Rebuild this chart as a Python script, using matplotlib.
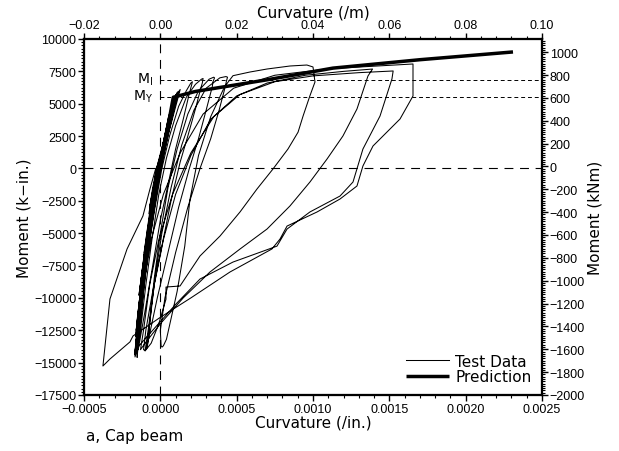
import matplotlib
matplotlib.use('agg')
import matplotlib.pyplot as plt
from matplotlib.ticker import MultipleLocator, FuncFormatter
import numpy as np

# curvature in micro (/in.) (x1e-6), moment in k-in.
elastic_cycles = [
    (0, 0), (15, 1200), (35, 2200), (50, 3000),
    (30, 2200), (0, 1000), (-25, 0), (-50, -1500), (-70, -3000),
    (-50, -1800), (-20, -500), (10, 800), (40, 2200), (60, 3200),
    (40, 2300), (5, 900), (-25, -200), (-55, -2000), (-75, -3500),
    (-45, -2000), (-10, 0), (30, 2000), (60, 3500), (75, 4500),
    (55, 3600), (20, 2000), (-20, 0), (-55, -2500), (-85, -4800), (-105, -6500),
    (-75, -4500), (-40, -2000), (-5, 0), (35, 2200), (65, 3800), (80, 4700),
    (60, 3700), (15, 1800), (-25, 0), (-65, -3000), (-95, -5500), (-110, -6800),
    (-80, -5000), (-40, -2200), (0, 0), (40, 2400), (70, 4200), (90, 5200),
    (70, 4200), (25, 2000), (-20, 0), (-60, -3000), (-95, -6000), (-120, -8000), (-135, -9500),
    (-110, -7000), (-70, -4000), (-30, -1500), (10, 1000), (50, 3200), (80, 4800), (95, 5300),
    (75, 4200), (30, 2200), (-15, 0), (-60, -3200), (-100, -6500), (-125, -8500), (-140, -9800),
    (-115, -7500), (-75, -4500), (-35, -1800), (5, 700), (45, 3000), (80, 4800), (100, 5500),
    (80, 4500), (35, 2300), (-15, 0), (-60, -3500), (-100, -7000), (-130, -9500), (-150, -11500), (-158, -12500),
    (-135, -10000), (-100, -7000), (-60, -3800), (-20, -1000), (25, 2000), (65, 4200), (95, 5400), (105, 5600),
    (85, 4600), (40, 2400), (-10, 0), (-55, -3500), (-95, -7000), (-128, -10000), (-152, -12000), (-162, -13000),
    (-140, -10500), (-105, -7000), (-65, -3800), (-25, -1000), (20, 2000), (60, 4200), (95, 5500), (110, 5800),
    (90, 4800), (45, 2600), (0, 200), (-45, -3000), (-90, -6800), (-125, -10000), (-150, -12500), (-163, -14000),
    (-145, -11500), (-110, -8000), (-70, -4500), (-30, -1500), (15, 1800), (55, 4000), (90, 5400), (115, 5900),
    (95, 4900), (50, 2700), (5, 300), (-40, -2800), (-85, -6500), (-120, -9800), (-148, -12500), (-160, -14300),
    (-140, -11500), (-105, -8000), (-65, -4500), (-25, -1500), (20, 1800), (60, 4000), (100, 5600), (130, 6100),
    (110, 5200), (60, 3000), (10, 500), (-35, -2500), (-80, -6000), (-115, -9500), (-140, -12200), (-152, -14600),
    (-132, -11800), (-98, -8200), (-58, -4600), (-18, -1500), (25, 1700), (65, 3900), (98, 5400), (120, 5900),
    (100, 5000), (55, 2800), (8, 300), (-38, -2700), (-82, -6200), (-118, -9700), (-144, -12400), (-156, -14200),
    (-136, -11600), (-102, -8100), (-62, -4600), (-22, -1600), (22, 1700), (62, 3900), (96, 5500), (112, 5900),
    (92, 4900), (48, 2700), (2, 200), (-42, -2900), (-88, -6700), (-122, -9900), (-150, -12600), (-168, -14400),
    (-148, -11800), (-112, -8200), (-72, -4700), (-32, -1700), (12, 1600), (52, 3900), (88, 5400), (108, 5800),
    (88, 4800), (42, 2500), (-4, 100), (-48, -3100), (-92, -6900), (-127, -10100), (-154, -12800), (-165, -14100),
]

small_inelastic = [
    (-135, -12500), (-110, -9500), (-75, -6000), (-35, -3000), (10, 0), (60, 2500), (120, 4800),
    (170, 6000), (200, 6600), (210, 6700), (205, 6450),
    (190, 5800), (150, 3800), (100, 1500), (55, -1000), (0, -4000), (-50, -7500), (-100, -11000),
    (-130, -13000), (-145, -14000),
    (-125, -12000), (-95, -9000), (-55, -5500), (-10, -2000), (40, 800), (100, 3300), (170, 5500),
    (230, 6500), (270, 6900), (280, 6950), (275, 6600),
    (265, 6200), (230, 4600), (180, 2500), (130, 500), (70, -2500), (10, -6000), (-50, -9500),
    (-95, -12500), (-110, -14000), (-100, -14050), (-85, -13800),
    (-70, -12000), (-40, -8500), (0, -5000), (50, -1500), (110, 1500), (180, 4200), (250, 6000),
    (320, 6900), (350, 7050), (355, 7000), (345, 6700),
    (340, 6300), (300, 4500), (250, 2300), (190, 0), (120, -3000), (50, -6500), (-20, -10000),
    (-70, -12800), (-90, -13900),
    (-70, -12000), (-35, -8500), (10, -5000), (70, -1500), (140, 1800), (220, 4500), (300, 6200),
    (390, 7000), (430, 7100), (440, 7050), (432, 6700),
    (425, 6300), (385, 4500), (330, 2300), (260, 0), (180, -3000), (100, -6500), (30, -10000),
    (0, -12500), (5, -13700), (11, -13800), (20, -13700), (40, -13200),
]

big_cycle_1 = [
    (110, -9500), (160, -6000), (194, -2400), (250, 1000), (330, 4000), (420, 6300), (476, 7166),
    (587, 7450), (699, 7682), (849, 7914), (960, 7990), (1000, 7840),
    (1013, 6680), (980, 5620), (935, 4050), (902, 2800), (836, 1500), (738, -40), (633, -1590),
    (522, -3360), (391, -5220), (260, -6760), (129, -9080), (37, -9160), (37, -10100),
    (-10, -12000), (-60, -13500), (-100, -14100),
]

big_cycle_2 = [
    (-80, -12500), (-40, -9000), (20, -5500), (100, -2000), (200, 1000), (330, 3800), (500, 5600),
    (700, 6600), (950, 7200), (1200, 7500), (1390, 7680),
    (1360, 7142), (1288, 4593), (1196, 2507), (1092, 730), (980, -1047), (849, -2900),
    (699, -4678), (522, -6223), (325, -8000), (150, -10000), (0, -12000), (-100, -13500),
    (-130, -14000),
]

big_cycle_3 = [
    (-110, -12500), (-70, -9000), (-10, -5500), (80, -2000), (200, 1200), (350, 4000), (520, 5700),
    (750, 6700), (1000, 7150), (1300, 7400), (1525, 7530),
    (1517, 6910), (1439, 4050), (1327, 1500), (1262, -1047), (1177, -2130), (980, -3360),
    (830, -4680), (764, -6000), (476, -7230), (260, -8540), (100, -10500), (-50, -12500),
    (-140, -13700), (-166, -14560),
]

big_cycle_4 = [
    (-145, -12500), (-110, -9000), (-60, -5500), (20, -2000), (130, 1200), (280, 4200), (480, 6200),
    (750, 7200), (1100, 7700), (1400, 7900), (1655, 8070),
    (1655, 5597), (1570, 3820), (1393, 1735), (1327, 190), (1288, -1356), (1177, -2360),
    (1026, -3365), (830, -4450), (784, -5450), (731, -6220), (456, -8000), (200, -10000),
    (0, -11500), (-179, -12940), (-199, -13400), (-330, -14720), (-376, -15260),
    (-330, -10085), (-218, -6220), (-114, -3670), (-68, -1590), (-30, 0),
]

pred_curv_u = [0, 85, 230, 700, 1130, 1700, 2310]
pred_moment = [0, 5500, 5950, 6850, 7750, 8400, 9000]

M_Y = 5500
M_I = 6800

test_pts = np.array(elastic_cycles + small_inelastic + big_cycle_1 + big_cycle_2
                    + big_cycle_3 + big_cycle_4, dtype=float)
test_curv = test_pts[:, 0] * 1e-6
test_moment = test_pts[:, 1]
pred_curv = np.array(pred_curv_u) * 1e-6


def fmt(pattern):
    return FuncFormatter(lambda v, p: (pattern % v).replace('-', '\u2212'))


plt.rcParams['font.family'] = 'DejaVu Sans'

fig = plt.figure(figsize=(6.19, 4.52), dpi=100)
ax = fig.add_axes([84/619, 1-396/452, 458/619, 356/452])

ax.plot(test_curv, test_moment, color='black', linewidth=0.75, label='Test Data')
ax.plot(pred_curv, pred_moment, color='black', linewidth=2.5, label='Prediction',
        solid_capstyle='butt')

ax.axhline(0, color='black', linewidth=0.8, dashes=(8, 6))
ax.axvline(0, color='black', linewidth=0.8, dashes=(8, 6))
ax.plot([0, 0.0025], [M_I, M_I], color='black', linewidth=0.7, dashes=(4, 3))
ax.plot([0, 0.0025], [M_Y, M_Y], color='black', linewidth=0.7, dashes=(4, 3))
ax.text(-0.00005, M_I + 150, 'M$_\\mathregular{I}$', ha='right', va='center', fontsize=10)
ax.text(-0.00005, M_Y + 150, 'M$_\\mathregular{Y}$', ha='right', va='center', fontsize=10)

ax.set_xlim(-0.0005, 0.0025)
ax.set_ylim(-17500, 10000)
ax.xaxis.set_major_locator(MultipleLocator(0.0005))
ax.xaxis.set_minor_locator(MultipleLocator(0.0001))
ax.xaxis.set_major_formatter(fmt('%.4f'))
ax.yaxis.set_major_locator(MultipleLocator(2500))
ax.yaxis.set_minor_locator(MultipleLocator(250))
ax.yaxis.set_major_formatter(fmt('%d'))
ax.set_xlabel('Curvature (/in.)', fontsize=11, labelpad=0)
ax.set_ylabel('Moment (k\u2212in.)', fontsize=11, labelpad=2)

ax_r = ax.twinx()
ax_r.set_ylim(-2000, 1115)
ax_r.yaxis.set_major_locator(MultipleLocator(200))
ax_r.yaxis.set_minor_locator(MultipleLocator(20))
ax_r.yaxis.set_major_formatter(fmt('%d'))
ax_r.set_ylabel('Moment (kNm)', fontsize=11, labelpad=2)

ax_t = ax.twiny()
ax_t.set_xlim(-0.02, 0.10)
ax_t.xaxis.set_major_locator(MultipleLocator(0.02))
ax_t.xaxis.set_minor_locator(MultipleLocator(0.004))
ax_t.xaxis.set_major_formatter(fmt('%.2f'))
ax_t.set_xlabel('Curvature (/m)', fontsize=11, labelpad=2)

for a in (ax, ax_r, ax_t):
    for s in a.spines.values():
        s.set_linewidth(1.5)
    a.tick_params(which='major', length=4, width=1.0, labelsize=9, pad=1.5)
    a.tick_params(which='minor', length=2, width=0.8)
    for lab in a.get_xticklabels() + a.get_yticklabels():
        lab.set_family('Liberation Sans')

ax.legend(loc='lower right', frameon=False, fontsize=11, handlelength=2.8,
          handletextpad=0.4, labelspacing=0.05, borderaxespad=0.3)

fig.text(86/619, 1-437/452, 'a, Cap beam', fontsize=11, va='center', ha='left')

fig.savefig('out.png', dpi=100)
plt.close()
